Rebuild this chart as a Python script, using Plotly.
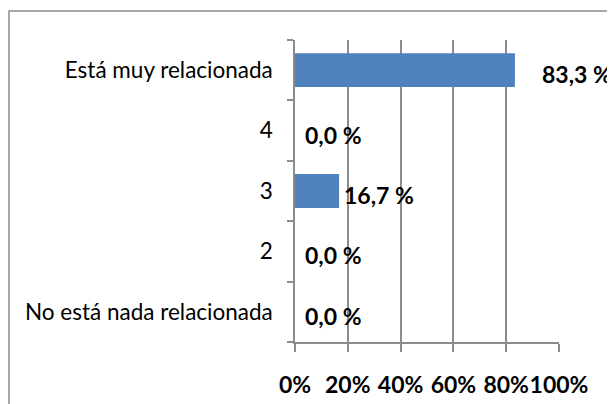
import plotly.graph_objects as go

categories = ["No está nada relacionada", "2", "3", "4", "Está muy relacionada"]
values = [0.0, 0.0, 16.7, 0.0, 83.3]
x_ticks = [0, 20, 40, 60, 80, 100]
x_tick_labels = ["0%", "20%", "40%", "60%", "80%", "100%"]

W, H = 615, 404
OFF = 8  # page body offset
L, T = 295 - OFF, 40 - OFF
pw, ph = 264, 302
R, B = W - L - pw, H - T - ph

fig = go.Figure()
fig.add_trace(go.Bar(
    x=values, y=categories, orientation="h",
    marker=dict(color="#4F81BD", line=dict(width=0)),
    width=0.56, hoverinfo="skip",
))

for i, (v, c) in enumerate(zip(values, categories)):
    txt = f"{v:.1f} %".replace(".", ",")
    shift = 25 if v > 50 else (8 if v == 0 else 3)
    fig.add_annotation(
        x=v, y=i, xref="x", yref="y", text=f"<b>{txt}</b>",
        showarrow=False, xanchor="left", yanchor="middle",
        xshift=shift, yshift=-4,
        font=dict(family="Lato", size=23, color="#000000"),
    )

# outer chart border
fig.add_shape(
    type="rect", xref="paper", yref="paper",
    x0=(9 - OFF - L) / pw, x1=(W + 20 - L) / pw,
    y0=-(H + 20 - (T + ph)) / ph, y1=(T + ph - (11 - OFF)) / ph,
    line=dict(color="#8C8C8C", width=1.5), fillcolor="rgba(0,0,0,0)",
    layer="below",
)

fig.update_layout(
    width=W, height=H,
    margin=dict(l=L, r=R, t=T, b=B, pad=0, autoexpand=False),
    paper_bgcolor="white", plot_bgcolor="white",
    showlegend=False,
    font=dict(family="Lato", color="#000000"),
)
fig.update_xaxes(
    range=[0, 100], tickvals=x_ticks, ticktext=x_tick_labels,
    showgrid=True, gridcolor="#8C8C8C", gridwidth=1.5,
    showline=True, linecolor="#8C8C8C", linewidth=1.5,
    ticks="outside", ticklen=8, tickcolor="#8C8C8C", tickwidth=1.5,
    tickfont=dict(family="Lato", size=23, color="#000000", weight="bold"),
    tickangle=0,
    ticklabelstandoff=14, zeroline=False, fixedrange=True, automargin=False,
)
fig.update_yaxes(
    categoryorder="array", categoryarray=categories,
    showgrid=False, showline=True, linecolor="#8C8C8C", linewidth=1.5,
    ticks="outside", tickson="boundaries", ticklen=6,
    tickcolor="#8C8C8C", tickwidth=1.5,
    tickfont=dict(family="Lato", size=22.5, color="#000000"),
    ticklabelstandoff=16, fixedrange=True, automargin=False,
)

fig.write_html("out.html")
